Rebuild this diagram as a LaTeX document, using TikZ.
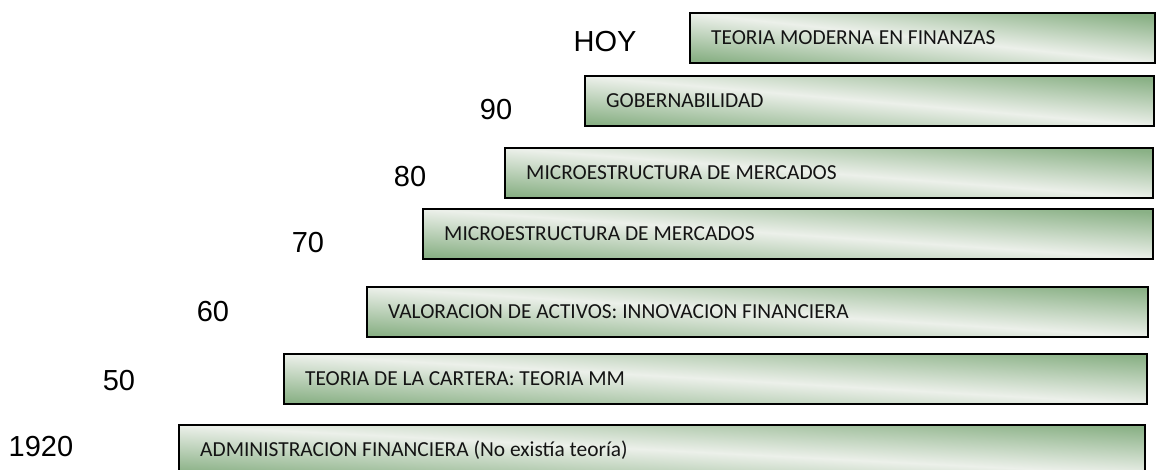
\documentclass[tikz,border=0pt]{standalone}
\usepackage{fontspec}
\newfontfamily\yearfont{Liberation Sans}
\newfontfamily\barfont{Carlito}
\definecolor{bardark}{RGB}{138,177,134}
\definecolor{barlight}{RGB}{236,240,234}
\definecolor{bartxt}{RGB}{20,20,20}
\begin{document}
\begin{tikzpicture}[x=1pt,y=-1pt,
  bar/.style={draw=black, line width=2pt, top color=bardark, bottom color=bardark,
    middle color=barlight, shading angle={-atan(50/#1)}, minimum height=50pt,
    minimum width=#1pt, anchor=north west, inner sep=0pt},
  bartext/.style={anchor=west, inner sep=0pt, font=\barfont\fontsize{21.4}{25}\selectfont, text=bartxt},
  year/.style={inner sep=0pt, font=\yearfont\fontsize{29}{34}\selectfont, text=black}]
\useasboundingbox (0,0) rectangle (1156,469);
% bars
\node[bar=465] (b1) at (689,12) {};
\node[bar=569] (b2) at (584,75) {};
\node[bar=648] (b3) at (504,147) {};
\node[bar=730] (b4) at (422,208) {};
\node[bar=781] (b5) at (366,286) {};
\node[bar=863] (b6) at (283,353) {};
\node[bar=966] (b7) at (178,424) {};
% bar texts
\node[bartext] (t1) at ([xshift=22pt]b1.west) {TEORIA MODERNA EN FINANZAS};
\node[bartext] (t2) at ([xshift=22pt]b2.west) {GOBERNABILIDAD};
\node[bartext] (t3) at ([xshift=22pt]b3.west) {MICROESTRUCTURA DE MERCADOS};
\node[bartext] (t4) at ([xshift=22pt]b4.west) {MICROESTRUCTURA DE MERCADOS};
\node[bartext] (t5) at ([xshift=22pt]b5.west) {VALORACION DE ACTIVOS: INNOVACION FINANCIERA};
\node[bartext] (t6) at ([xshift=22pt]b6.west) {TEORIA DE LA CARTERA: TEORIA MM};
\node[bartext] (t7) at ([xshift=22pt]b7.west) {ADMINISTRACION FINANCIERA (No existía teoría)};
% year labels
\node[year] (y0) at (605,42) {HOY};
\node[year] (y1) at (496,110) {90};
\node[year] (y2) at (410,177) {80};
\node[year] (y3) at (308,243) {70};
\node[year] (y4) at (213,312) {60};
\node[year] (y5) at (119,381) {50};
\node[year] (y6) at (41,447) {1920};
\end{tikzpicture}
\end{document}
